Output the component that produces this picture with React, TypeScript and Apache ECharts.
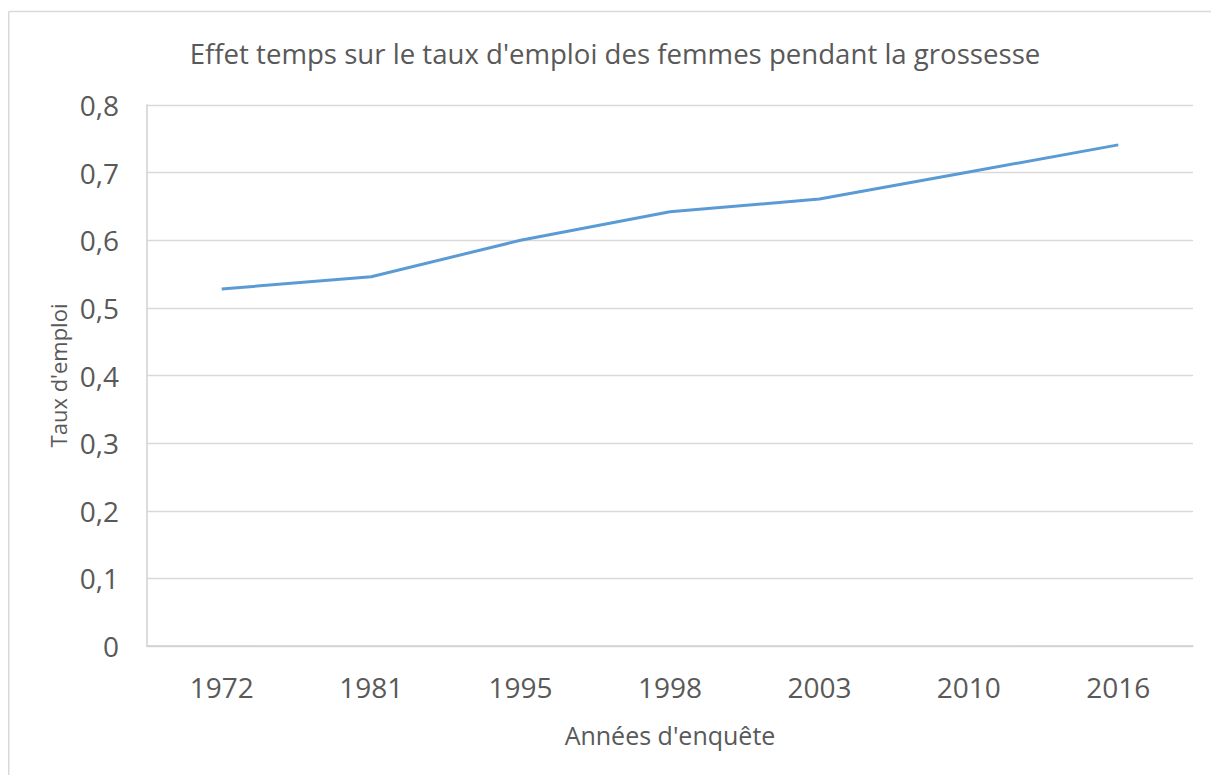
import React, { useEffect, useRef } from "react";
import * as echarts from "echarts";

const years = ["1972", "1981", "1995", "1998", "2003", "2010", "2016"];
const rates = [0.528, 0.546, 0.6, 0.642, 0.661, 0.701, 0.741];
const titleText = "Effet temps sur le taux d'emploi des femmes pendant la grossesse";
const xName = "Années d'enquête";
const yName = "Taux d'emploi";

export default function App() {
  const ref = useRef<HTMLDivElement>(null);
  useEffect(() => {
    if (!ref.current) return;
    document.body.style.overflow = "hidden";
    const chart = echarts.init(ref.current, undefined, { renderer: "svg" });
    const font = "'Open Sans', sans-serif";
    chart.setOption({
      animation: false,
      textStyle: { fontFamily: font },
      graphic: [
        {
          type: "line",
          shape: { x1: 0.75, y1: 3.5, x2: 1203, y2: 3.5 },
          style: { stroke: "#D9D9D9", lineWidth: 1.5 },
          silent: true,
        },
        {
          type: "line",
          shape: { x1: 0.75, y1: 3.5, x2: 0.75, y2: 767 },
          style: { stroke: "#D9D9D9", lineWidth: 1.5 },
          silent: true,
        },
      ],
      title: {
        text: titleText,
        left: 602,
        top: 26,
        textAlign: "center",
        textStyle: { fontFamily: font, fontSize: 27.6, fontWeight: "normal", color: "#595959" },
      },
      grid: { left: 139, right: 18, top: 97, bottom: 129 },
      xAxis: {
        type: "category",
        data: years,
        boundaryGap: true,
        name: xName,
        nameLocation: "middle",
        nameGap: 76,
        nameTextStyle: { fontFamily: font, fontSize: 25, color: "#595959" },
        axisLine: { lineStyle: { color: "#D0D0D0", width: 1.5 } },
        axisTick: { show: false },
        axisLabel: { fontFamily: font, fontSize: 28, color: "#595959", margin: 27 },
      },
      yAxis: {
        type: "value",
        min: 0,
        max: 0.8,
        interval: 0.1,
        name: yName,
        nameLocation: "middle",
        nameGap: 77,
        nameTextStyle: { fontFamily: font, fontSize: 22, color: "#595959" },
        axisLine: { show: true, lineStyle: { color: "#D0D0D0", width: 1.5 } },
        axisTick: { show: false },
        splitLine: { lineStyle: { color: "#D9D9D9", width: 1.3 } },
        axisLabel: {
          fontFamily: font,
          fontSize: 28,
          color: "#595959",
          margin: 28,
          formatter: (v: number) => (Math.round(v * 10) / 10).toString().replace(".", ","),
        },
      },
      series: [
        {
          type: "line",
          data: rates,
          symbol: "none",
          lineStyle: { color: "#5B9BD5", width: 3 },
        },
      ],
    });
    return () => chart.dispose();
  }, []);
  return (
    <div
      ref={ref}
      style={{ position: "absolute", left: 8, top: 8, width: 1203, height: 767 }}
    />
  );
}
